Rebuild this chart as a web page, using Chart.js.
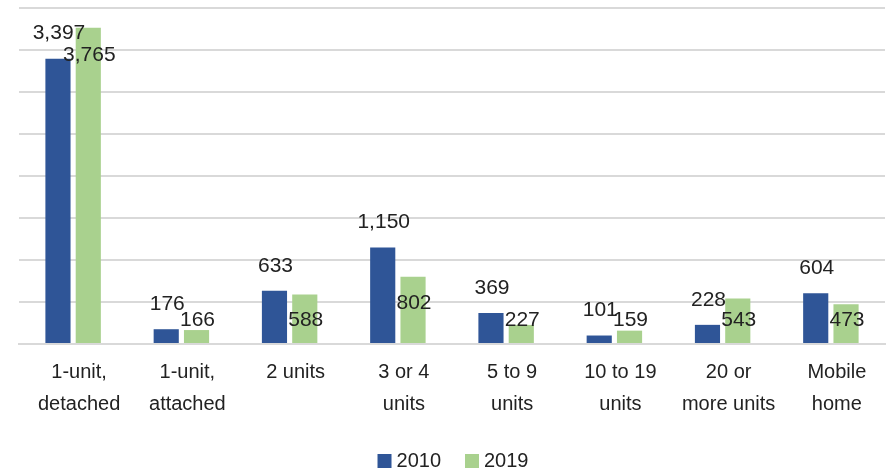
<!DOCTYPE html>
<html>
<head>
<meta charset="utf-8">
<script src="https://cdn.jsdelivr.net/npm/chart.js@4.4.0/dist/chart.umd.min.js"></script>
<style>
    html, body { margin: 0; padding: 0; background: #fff; }
    #wrap { width: 890px; height: 472px; position: relative; }
</style>
</head>
<body>
<div id="wrap"><canvas id="chart"></canvas></div>
<script>
// housing units by type
const categories = [
    ['1-unit,', 'detached'],
    ['1-unit,', 'attached'],
    ['2 units'],
    ['3 or 4', 'units'],
    ['5 to 9', 'units'],
    ['10 to 19', 'units'],
    ['20 or', 'more units'],
    ['Mobile', 'home']
];
const units2010 = [3397, 176, 633, 1150, 369, 101, 228, 604];
const units2019 = [3765, 166, 588, 802, 227, 159, 543, 473];
const seriesNames = ['2010', '2019'];

const FONT = '"Liberation Sans", Arial, sans-serif';
const TEXT = '#222';

// draws value labels the way the original spreadsheet placed them
const valueLabels = {
    id: 'valueLabels',
    afterDatasetsDraw(chart) {
        const ctx = chart.ctx;
        const base = chart.scales.y.getPixelForValue(0);
        ctx.save();
        ctx.font = '21px ' + FONT;
        ctx.fillStyle = TEXT;
        ctx.textAlign = 'center';
        ctx.textBaseline = 'middle';
        chart.data.datasets.forEach(function (ds, di) {
            chart.getDatasetMeta(di).data.forEach(function (bar, i) {
                const txt = ds.data[i].toLocaleString('en-US');
                let y;
                if (di === 0) y = bar.y - 25;
                else y = Math.min(bar.y + 27, base - 24);
                ctx.fillText(txt, bar.x + 1, y);
            });
        });
        ctx.restore();
    }
};

// simple legend below the axis labels, centred like the original
const bottomLegend = {
    id: 'bottomLegend',
    afterDraw(chart) {
        const ctx = chart.ctx;
        const sets = chart.data.datasets;
        const box = 14, gap = 5, between = 24;
        ctx.save();
        ctx.font = '20px ' + FONT;
        ctx.textBaseline = 'middle';
        ctx.textAlign = 'left';
        let total = 0;
        sets.forEach(function (ds, i) {
            total += box + gap + ctx.measureText(ds.label).width;
            if (i > 0) total += between;
        });
        let x = (chart.width - total) / 2 + 8;
        const y = 461;
        sets.forEach(function (ds) {
            ctx.fillStyle = ds.backgroundColor;
            ctx.fillRect(x, y - box / 2, box, box);
            x += box + gap;
            ctx.fillStyle = TEXT;
            ctx.fillText(ds.label, x, y);
            x += ctx.measureText(ds.label).width + between;
        });
        ctx.restore();
    }
};

new Chart(document.getElementById('chart'), {
    type: 'bar',
    data: {
        labels: categories,
        datasets: [
            { label: seriesNames[0], data: units2010, backgroundColor: '#2F5597' },
            { label: seriesNames[1], data: units2019, backgroundColor: '#A9D18E' }
        ]
    },
    options: {
        responsive: true,
        maintainAspectRatio: false,
        animation: false,
        layout: { padding: { left: 19, right: 5, top: 8, bottom: 40 } },
        datasets: { bar: { categoryPercentage: 0.56, barPercentage: 0.83 } },
        scales: {
            x: {
                grid: { display: false, drawTicks: false },
                border: { color: '#d9d9d9', width: 2 },
                ticks: {
                    color: TEXT,
                    font: { family: FONT, size: 20, lineHeight: 1.6 },
                    padding: 12,
                    labelOffset: 6,
                    maxRotation: 0,
                    autoSkip: false
                }
            },
            y: {
                min: 0,
                max: 4000,
                ticks: { display: false, stepSize: 500 },
                grid: { color: '#d9d9d9', lineWidth: 2, drawTicks: false },
                border: { display: false }
            }
        },
        plugins: {
            legend: { display: false },
            tooltip: { enabled: false }
        }
    },
    plugins: [valueLabels, bottomLegend]
});
</script>
</body>
</html>
